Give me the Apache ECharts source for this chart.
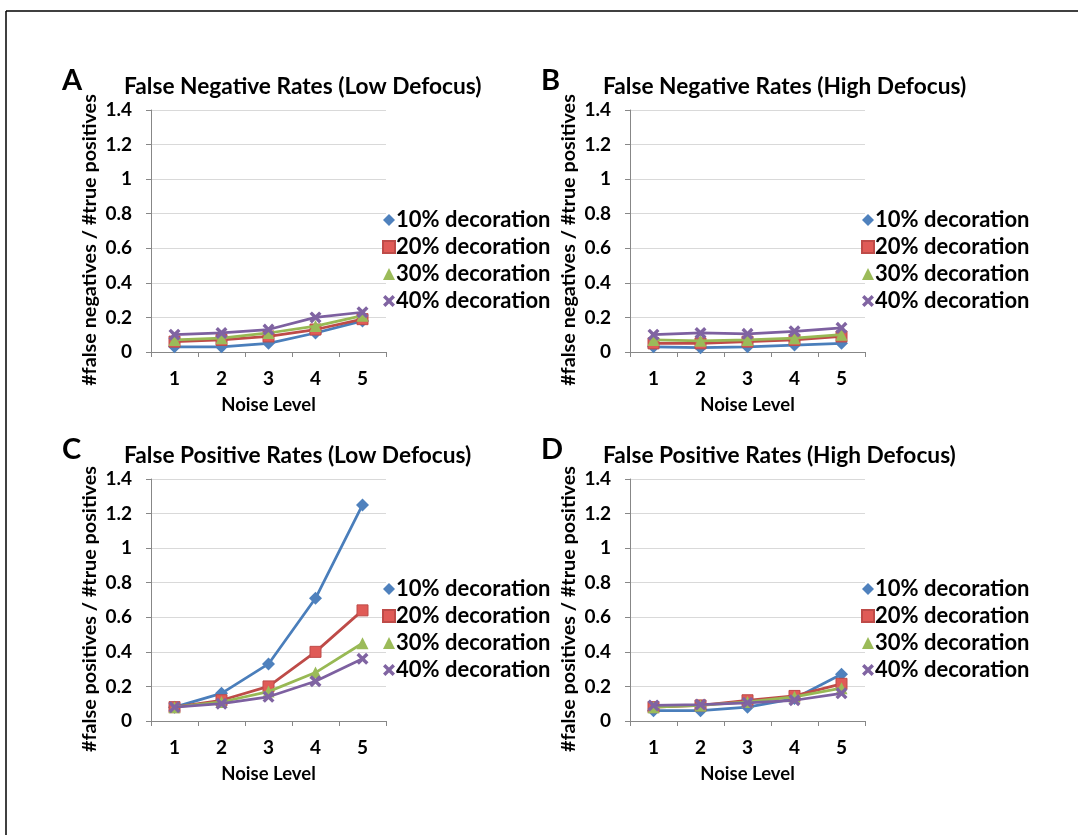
<!DOCTYPE html>
<html>
<head>
<meta charset="utf-8">
<script src="https://cdn.jsdelivr.net/npm/echarts@6/dist/echarts.min.js"></script>
<style>
  html, body { margin: 0; padding: 0; background: #fff; }
  #main { width: 1078px; height: 835px; }
</style>
</head>
<body>
<div id="main"></div>
<script>
// noise levels on the x axis
let noiseLevels = ['1', '2', '3', '4', '5']
let seriesNames = ['10% decoration', '20% decoration', '30% decoration', '40% decoration']
let yTicks = [0, 0.2, 0.4, 0.6, 0.8, 1, 1.2, 1.4]

// A: false negatives, low defocus
let fnLow10 = [0.03, 0.03, 0.05, 0.11, 0.18]
let fnLow20 = [0.06, 0.07, 0.09, 0.13, 0.19]
let fnLow30 = [0.07, 0.08, 0.11, 0.15, 0.21]
let fnLow40 = [0.10, 0.11, 0.13, 0.20, 0.23]
// B: false negatives, high defocus
let fnHigh10 = [0.03, 0.025, 0.03, 0.04, 0.05]
let fnHigh20 = [0.05, 0.05, 0.06, 0.07, 0.09]
let fnHigh30 = [0.07, 0.065, 0.07, 0.08, 0.10]
let fnHigh40 = [0.10, 0.11, 0.105, 0.12, 0.14]
// C: false positives, low defocus
let fpLow10 = [0.08, 0.16, 0.33, 0.71, 1.25]
let fpLow20 = [0.08, 0.12, 0.20, 0.40, 0.64]
let fpLow30 = [0.08, 0.11, 0.17, 0.28, 0.45]
let fpLow40 = [0.08, 0.10, 0.14, 0.23, 0.36]
// D: false positives, high defocus
let fpHigh10 = [0.06, 0.06, 0.08, 0.13, 0.27]
let fpHigh20 = [0.08, 0.09, 0.12, 0.145, 0.215]
let fpHigh30 = [0.08, 0.09, 0.11, 0.14, 0.19]
let fpHigh40 = [0.09, 0.095, 0.105, 0.12, 0.16]

let font = 'Lato, "Open Sans", sans-serif'
let colors = ['#4A7EBB', '#BE4B48', '#98B954', '#7D60A0']
let xPath = 'path://M0,2 L2,0 L5,3 L8,0 L10,2 L7,5 L10,8 L8,10 L5,7 L2,10 L0,8 L3,5 Z'
let symbols = ['diamond', 'rect', 'triangle', xPath]
let symbolSizes = [13, 11, 12, 12]
let markerFill = ['#4F81BD', '#E05B57', '#9BBB59', '#8064A2']

let panels = [
  { letter: 'A', title: 'False Negative Rates (Low Defocus)', yName: '#false negatives / #true positives',
    left: 151, top: 110, data: [fnLow10, fnLow20, fnLow30, fnLow40] },
  { letter: 'B', title: 'False Negative Rates (High Defocus)', yName: '#false negatives / #true positives',
    left: 630, top: 110, data: [fnHigh10, fnHigh20, fnHigh30, fnHigh40] },
  { letter: 'C', title: 'False Positive Rates (Low Defocus)', yName: '#false positives / #true positives',
    left: 151, top: 479, data: [fpLow10, fpLow20, fpLow30, fpLow40] },
  { letter: 'D', title: 'False Positive Rates (High Defocus)', yName: '#false positives / #true positives',
    left: 630, top: 479, data: [fpHigh10, fpHigh20, fpHigh30, fpHigh40] }
]

let grid = [], xAxis = [], yAxis = [], series = [], legend = [], title = []

panels.forEach(function (p, k) {
  grid.push({ left: p.left, top: p.top, width: 235, height: 242 })
  xAxis.push({
    type: 'category',
    gridIndex: k,
    data: noiseLevels,
    name: 'Noise Level',
    nameLocation: 'middle',
    nameGap: 44,
    nameTextStyle: { fontFamily: font, fontWeight: 'bold', fontSize: 18.5, color: '#000' },
    axisLine: { lineStyle: { color: '#878787', width: 1 } },
    axisTick: { show: true, interval: 0, length: 5, lineStyle: { color: '#878787' } },
    axisLabel: { margin: 17, fontFamily: font, fontWeight: 'bold', fontSize: 19, color: '#000' }
  })
  yAxis.push({
    type: 'value',
    gridIndex: k,
    min: 0,
    max: yTicks[yTicks.length - 1],
    interval: 0.2,
    name: p.yName,
    nameLocation: 'middle',
    nameGap: 51,
    nameTextStyle: { fontFamily: font, fontWeight: 'bold', fontSize: 19.8, color: '#000', padding: [0, 18, 0, 0] },
    axisLine: { show: true, lineStyle: { color: '#878787', width: 1 } },
    axisTick: { show: true, length: 5, lineStyle: { color: '#878787' } },
    splitLine: { lineStyle: { color: '#D9D9D9', width: 1 } },
    axisLabel: { margin: 19, fontFamily: font, fontWeight: 'bold', fontSize: 19, color: '#000' }
  })
  p.data.forEach(function (vals, i) {
    series.push({
      name: seriesNames[i],
      type: 'line',
      xAxisIndex: k,
      yAxisIndex: k,
      data: vals,
      symbol: symbols[i],
      symbolSize: symbolSizes[i],
      showAllSymbol: true,
      lineStyle: { color: colors[i], width: 2.75 },
      itemStyle: { color: markerFill[i], borderColor: colors[i], borderWidth: i === 1 ? 1 : 0 },
      animation: false,
      z: 2 + i
    })
  })
  legend.push({
    left: p.left + 226,
    top: p.top + 94,
    orient: 'vertical',
    itemWidth: 12,
    itemHeight: 12,
    itemGap: 5,
    data: seriesNames.map(function (n, i) {
      return { name: n, icon: symbols[i], itemStyle: { color: markerFill[i] } }
    }),
    textStyle: { fontFamily: font, fontWeight: 'bold', fontSize: 22, color: '#000', padding: [0, 0, 0, -4] },
    selectedMode: false
  })
  title.push({
    text: p.letter,
    left: p.left - 94,
    top: p.top - 49,
    textStyle: { fontFamily: font, fontWeight: 'bold', fontSize: 29, color: '#000' }
  })
  title.push({
    text: p.title,
    left: p.left - 32,
    top: p.top - 40,
    textStyle: { fontFamily: font, fontWeight: 'bold', fontSize: 22.7, color: '#000' }
  })
})

let myChart = echarts.init(document.getElementById('main'), null, { renderer: 'canvas' })
myChart.setOption({
  backgroundColor: '#fff',
  animation: false,
  title: title,
  grid: grid,
  xAxis: xAxis,
  yAxis: yAxis,
  legend: legend,
  series: series,
  // page frame lines (top and left)
  graphic: [
    { type: 'line', shape: { x1: 6, y1: 11, x2: 1078, y2: 11 }, style: { stroke: '#000', lineWidth: 1.5 } },
    { type: 'line', shape: { x1: 6, y1: 11, x2: 6, y2: 835 }, style: { stroke: '#000', lineWidth: 1.5 } }
  ]
})
</script>
</body>
</html>
